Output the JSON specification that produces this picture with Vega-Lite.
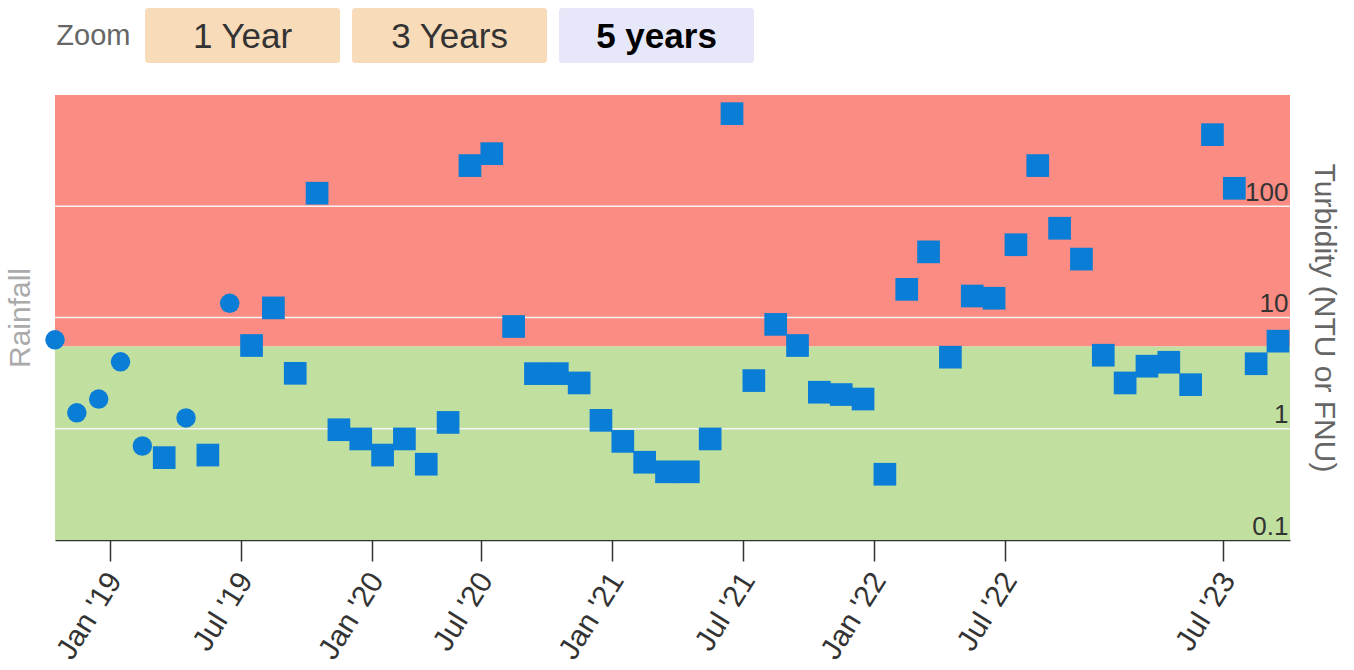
{
  "$schema": "https://vega.github.io/schema/vega-lite/v6.json",
  "padding": {"left": 5, "top": 8, "right": 6, "bottom": 0},
  "background": "white",
  "config": {"font": "Liberation Sans", "view": {"stroke": null}, "concat": {"spacing": 32}},
  "resolve": {"scale": {"color": "independent"}},
  "datasets": {
    "buttons": [
      {"button": "1 Year", "state": "inactive", "group": "Zoom"},
      {"button": "3 Years", "state": "inactive", "group": "Zoom"},
      {"button": "5 years", "state": "active", "group": "Zoom"}
    ],
    "zones": [
      {"zone": "high", "lower": 5.5, "upper": 1000},
      {"zone": "low", "lower": 0.1, "upper": 5.5}
    ],
    "gridlines": [{"level": 1}, {"level": 10}, {"level": 100}],
    "samples": [
      {"date": "2018-10-01", "turbidity": 6.3, "series": "Field"},
      {"date": "2018-11-01", "turbidity": 1.39, "series": "Field"},
      {"date": "2018-12-01", "turbidity": 1.85, "series": "Field"},
      {"date": "2019-01-01", "turbidity": 4.0, "series": "Field"},
      {"date": "2019-02-01", "turbidity": 0.70, "series": "Field"},
      {"date": "2019-03-01", "turbidity": 0.55, "series": "Lab"},
      {"date": "2019-04-01", "turbidity": 1.25, "series": "Field"},
      {"date": "2019-05-01", "turbidity": 0.58, "series": "Lab"},
      {"date": "2019-06-01", "turbidity": 13.4, "series": "Field"},
      {"date": "2019-07-01", "turbidity": 5.6, "series": "Lab"},
      {"date": "2019-08-01", "turbidity": 12.2, "series": "Lab"},
      {"date": "2019-09-01", "turbidity": 3.15, "series": "Lab"},
      {"date": "2019-10-01", "turbidity": 131, "series": "Lab"},
      {"date": "2019-11-01", "turbidity": 0.98, "series": "Lab"},
      {"date": "2019-12-01", "turbidity": 0.81, "series": "Lab"},
      {"date": "2020-01-01", "turbidity": 0.58, "series": "Lab"},
      {"date": "2020-02-01", "turbidity": 0.81, "series": "Lab"},
      {"date": "2020-03-01", "turbidity": 0.48, "series": "Lab"},
      {"date": "2020-05-01", "turbidity": 1.14, "series": "Lab"},
      {"date": "2020-06-01", "turbidity": 232, "series": "Lab"},
      {"date": "2020-07-01", "turbidity": 297, "series": "Lab"},
      {"date": "2020-08-01", "turbidity": 8.3, "series": "Lab"},
      {"date": "2020-09-01", "turbidity": 3.13, "series": "Lab"},
      {"date": "2020-10-01", "turbidity": 3.13, "series": "Lab"},
      {"date": "2020-11-01", "turbidity": 2.58, "series": "Lab"},
      {"date": "2020-12-01", "turbidity": 1.19, "series": "Lab"},
      {"date": "2021-01-01", "turbidity": 0.77, "series": "Lab"},
      {"date": "2021-02-01", "turbidity": 0.50, "series": "Lab"},
      {"date": "2021-03-01", "turbidity": 0.41, "series": "Lab"},
      {"date": "2021-04-01", "turbidity": 0.41, "series": "Lab"},
      {"date": "2021-05-01", "turbidity": 0.81, "series": "Lab"},
      {"date": "2021-06-01", "turbidity": 680, "series": "Lab"},
      {"date": "2021-07-01", "turbidity": 2.71, "series": "Lab"},
      {"date": "2021-08-01", "turbidity": 8.67, "series": "Lab"},
      {"date": "2021-09-01", "turbidity": 5.6, "series": "Lab"},
      {"date": "2021-10-01", "turbidity": 2.13, "series": "Lab"},
      {"date": "2021-11-01", "turbidity": 2.03, "series": "Lab"},
      {"date": "2021-12-01", "turbidity": 1.85, "series": "Lab"},
      {"date": "2022-01-01", "turbidity": 0.39, "series": "Lab"},
      {"date": "2022-02-01", "turbidity": 17.9, "series": "Lab"},
      {"date": "2022-03-01", "turbidity": 38.9, "series": "Lab"},
      {"date": "2022-04-01", "turbidity": 4.4, "series": "Lab"},
      {"date": "2022-05-01", "turbidity": 15.6, "series": "Lab"},
      {"date": "2022-06-01", "turbidity": 14.9, "series": "Lab"},
      {"date": "2022-07-01", "turbidity": 45.1, "series": "Lab"},
      {"date": "2022-08-01", "turbidity": 232, "series": "Lab"},
      {"date": "2022-09-01", "turbidity": 63.4, "series": "Lab"},
      {"date": "2022-10-01", "turbidity": 33.5, "series": "Lab"},
      {"date": "2022-11-01", "turbidity": 4.58, "series": "Lab"},
      {"date": "2023-02-01", "turbidity": 2.58, "series": "Lab"},
      {"date": "2023-03-01", "turbidity": 3.65, "series": "Lab"},
      {"date": "2023-04-01", "turbidity": 3.96, "series": "Lab"},
      {"date": "2023-05-01", "turbidity": 2.49, "series": "Lab"},
      {"date": "2023-06-01", "turbidity": 440, "series": "Lab"},
      {"date": "2023-07-01", "turbidity": 145, "series": "Lab"},
      {"date": "2023-08-01", "turbidity": 3.84, "series": "Lab"},
      {"date": "2023-09-01", "turbidity": 6.13, "series": "Lab"}
    ]
  },
  "vconcat": [
    {
      "width": 699,
      "height": 55,
      "data": {"name": "buttons"},
      "encoding": {
        "x": {"field": "button", "type": "nominal", "sort": null,
          "scale": {"type": "band", "domain": ["1 Year", "3 Years", "5 years"], "paddingInner": 0.058, "paddingOuter": 0.2175, "align": 1},
          "axis": null},
        "y": {"field": "group", "type": "nominal",
          "scale": {"domain": ["Zoom"], "paddingInner": 0, "paddingOuter": 0},
          "axis": {"orient": "left", "offset": -80, "title": null, "domain": false, "ticks": false, "labelPadding": 5, "labelFontSize": 29, "labelColor": "#666666", "labelFontWeight": "normal"}}
      },
      "layer": [
        {"mark": {"type": "rect", "cornerRadius": 3},
          "encoding": {"color": {"field": "state", "type": "nominal", "scale": {"domain": ["inactive", "active"], "range": ["#f8dbb9", "#e6e7f8"]}, "legend": null}}},
        {"transform": [{"filter": "datum.state === 'inactive'"}],
          "mark": {"type": "text", "fontSize": 35, "color": "#333333", "dy": 1},
          "encoding": {"text": {"field": "button"}}},
        {"transform": [{"filter": "datum.state === 'active'"}],
          "mark": {"type": "text", "fontSize": 35, "fontWeight": "bold", "color": "#000000", "dy": 1},
          "encoding": {"text": {"field": "button"}}}
      ]
    },
    {
      "width": 1235,
      "height": 445,
      "layer": [
        {"data": {"name": "zones"},
          "mark": {"type": "rect"},
          "encoding": {
            "y": {"field": "lower", "type": "quantitative",
              "scale": {"type": "log", "domain": [0.1, 1000], "nice": false},
              "axis": {"orient": "left", "title": "Rainfall", "labels": false, "ticks": false, "domain": false, "grid": false, "titleFontSize": 30, "titleColor": "#aaaaaa", "titleFontWeight": "normal", "titlePadding": 20}},
            "y2": {"field": "upper"},
            "color": {"field": "zone", "type": "nominal", "scale": {"domain": ["high", "low"], "range": ["#fa8c83", "#c1e0a0"]}, "legend": null}
          }},
        {"data": {"name": "gridlines"},
          "mark": {"type": "rule", "stroke": "#f4f4f4", "strokeWidth": 1.5},
          "encoding": {
            "y": {"field": "level", "type": "quantitative", "scale": {"type": "log", "domain": [0.1, 1000], "nice": false}, "axis": null}
          }},
        {"data": {"name": "samples"},
          "mark": {"type": "point", "filled": true, "opacity": 1, "color": "#0a7dd7"},
          "encoding": {
            "x": {"field": "date", "type": "ordinal",
              "scale": {"type": "point", "padding": 0.275, "align": 0},
              "axis": {"title": null, "grid": false,
                "values": ["2019-01-01", "2019-07-01", "2020-01-01", "2020-07-01", "2021-01-01", "2021-07-01", "2022-01-01", "2022-07-01", "2023-07-01"],
                "labelExpr": "utcFormat(toDate(datum.value), \"%b '%y\")",
                "labelAngle": -58, "tickOffset": -11, "tickSize": 21, "tickColor": "#333333", "tickWidth": 1.5,
                "domainColor": "#333333", "domainWidth": 1.5, "labelFontSize": 30, "labelColor": "#333333", "labelPadding": 14, "labelOffset": 5}},
            "y": {"field": "turbidity", "type": "quantitative",
              "scale": {"type": "log", "domain": [0.1, 1000], "nice": false},
              "axis": {"orient": "right", "zindex": 1, "values": [0.1, 1, 10, 100], "format": "~g", "title": "Turbidity (NTU or FNU)", "grid": false, "ticks": false, "domain": false,
                "labelAlign": "right", "labelBaseline": "alphabetic", "labelPadding": -2, "labelOffset": -6, "labelFontSize": 26, "labelColor": "#333333",
                "titleFontSize": 30, "titleColor": "#666666", "titleFontWeight": "normal", "titlePadding": 18}},
            "shape": {"field": "series", "type": "nominal", "scale": {"domain": ["Field", "Lab"], "range": ["circle", "square"]}, "legend": null},
            "size": {"field": "series", "type": "ordinal", "scale": {"domain": ["Field", "Lab"], "range": [380, 515]}, "legend": null}
          }}
      ],
      "resolve": {"scale": {"y": "independent"}, "axis": {"y": "independent"}}
    }
  ]
}
